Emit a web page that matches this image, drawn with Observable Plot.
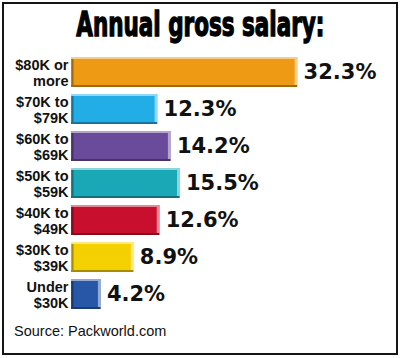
<!DOCTYPE html>
<html>
<head>
<meta charset="utf-8">
<script src="https://cdn.jsdelivr.net/npm/d3@7"></script>
<script src="https://cdn.jsdelivr.net/npm/@observablehq/plot@0.6"></script>
<style>
  html, body { margin: 0; padding: 0; background: #fff; }
  #wrap { position: relative; width: 400px; height: 358px; overflow: hidden; background: #fff; }
  #frame { position: absolute; left: 2px; top: 2px; width: 392px; height: 349px; border: 2px solid #151515; }
  #title { position: absolute; left: 0; top: 8px; width: 400px; text-align: center; white-space: nowrap;
           font-family: "DejaVu Sans Condensed", "DejaVu Sans", sans-serif; font-weight: bold; font-size: 33px;
           line-height: 33px; color: #000; -webkit-text-stroke: 1.3px #000; }
  #title span { display: inline-block; transform-origin: 50% 50%; }
  #chart { position: absolute; left: 0; top: 44px; }
  #source { position: absolute; left: 14px; top: 323px; font-family: "Liberation Sans", Arial, sans-serif;
            font-size: 14.5px; color: #111; white-space: nowrap; }
</style>
</head>
<body>
<div id="wrap">
  <div id="frame"></div>
  <div id="title"><span>Annual gross salary:</span></div>
  <div id="chart"></div>
  <div id="source">Source: Packworld.com</div>
</div>
<script>
const categories = ["$80K or\nmore", "$70K to\n$79K", "$60K to\n$69K", "$50K to\n$59K", "$40K to\n$49K", "$30K to\n$39K", "Under\n$30K"];
const values = [32.3, 12.3, 14.2, 15.5, 12.6, 8.9, 4.2];
const colors = ["#EF9A14", "#22ADE6", "#6A4B9B", "#1AA8B7", "#C8102E", "#F4D000", "#2857A8"];

const data = categories.map((c, i) => ({
  cat: c,
  value: values[i],
  color: colors[i],
  light: d3.interpolateRgb(colors[i], "#ffffff")(0.5),
  dark: d3.color(colors[i]).darker(1.1).formatHex()
}));

const chart = Plot.plot({
  width: 400,
  height: 278,
  margin: 0,
  x: { domain: [0, 40], range: [71, 351], axis: null },
  y: { domain: categories, range: [3.2, 274.2], padding: 0.18, axis: null },
  marks: [
    Plot.barX(data, { y: "cat", x1: 0, x2: "value", fill: d => d.color }),
    Plot.tickX(data, { y: "cat", x: "value", dx: -1.5, stroke: d => d.light, strokeWidth: 3 }),
    Plot.tickX(data, { y: "cat", x: 0, dx: 1, stroke: d => d.dark, strokeWidth: 2 }),
    Plot.barX(data, { y: "cat", x1: 0, x2: "value", insetBottom: 28, insetRight: 1.5, fill: d => d.light }),
    Plot.barX(data, { y: "cat", x1: 0, x2: "value", insetTop: 28, fill: d => d.dark }),
    Plot.text(data, { y: "cat", x: 0, dx: -3, text: "cat", textAnchor: "end", lineAnchor: "middle",
      lineHeight: 1.12, fontSize: 14.5, fontWeight: "bold", fill: "#111",
      fontFamily: "Liberation Sans, Arial, sans-serif" }),
    Plot.text(data, { y: "cat", x: "value", dx: 6, text: d => d.value.toFixed(1) + "%", textAnchor: "start",
      fontSize: 21, fontWeight: "bold", fill: "#111", fontFamily: "DejaVu Sans, sans-serif" })
  ]
});
document.getElementById("chart").appendChild(chart);

// fit title width to the reference's condensed headline
const span = document.querySelector("#title span");
const w = span.getBoundingClientRect().width;
span.style.transform = `scaleX(${248 / w})`;
</script>
</body>
</html>
